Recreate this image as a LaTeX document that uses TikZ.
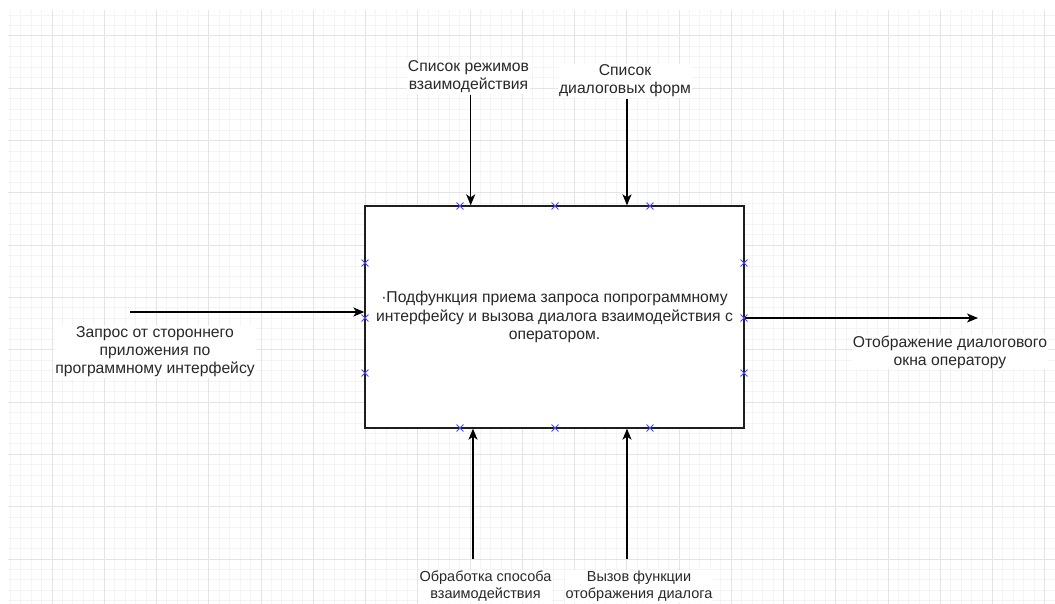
\documentclass[tikz,border=0pt]{standalone}
\usepackage{fontspec}
\setmainfont{Liberation Sans}
\usetikzlibrary{arrows.meta,shapes.misc}
\definecolor{gridminor}{RGB}{244,244,244}
\definecolor{gridmajor}{RGB}{228,228,228}
\definecolor{txt}{RGB}{40,40,40}
\definecolor{edge}{RGB}{30,30,30}
\definecolor{xblue}{RGB}{70,70,255}
\tikzset{
  lbl/.style={fill=white, inner sep=1pt, align=center, text=txt, font=\fontsize{15.7}{18}\selectfont},
  smalllbl/.style={lbl, font=\fontsize{14.5}{17}\selectfont},
  arr/.style={line width=1.3pt, draw=black, -{Stealth[length=11pt,width=9pt,inset=3pt]}},
  xmark/.style={cross out, draw=xblue, minimum size=6pt, inner sep=0pt, line width=0.9pt},
  funcbox/.style={draw=edge, line width=1.3pt, fill=white, minimum width=379pt, minimum height=222pt, align=center, text=txt, font=\fontsize{15.7}{18.5}\selectfont}
}
\begin{document}
\begin{tikzpicture}[x=1pt,y=-1pt]
\useasboundingbox (0,0) rectangle (1055,604);
\fill[white] (0,0) rectangle (1055,604);
% grid
\begin{scope}
\clip (8,10) rectangle (1055,604);
\foreach \k in {-4,...,96} {
  \pgfmathsetmacro{\xx}{52+10.45*\k}
  \draw[gridminor, line width=1pt] (\xx,10) -- (\xx,604);
}
\foreach \k in {-3,...,54} {
  \pgfmathsetmacro{\yy}{36+10.46*\k}
  \draw[gridminor, line width=1pt] (8,\yy) -- (1055,\yy);
}
\foreach \k in {-1,...,20} {
  \pgfmathsetmacro{\xx}{52+52.25*\k}
  \draw[gridmajor, line width=1pt] (\xx,10) -- (\xx,604);
}
\foreach \k in {-1,...,11} {
  \pgfmathsetmacro{\yy}{36+52.3*\k}
  \draw[gridmajor, line width=1pt] (8,\yy) -- (1055,\yy);
}
\end{scope}

% main box
\node[funcbox] (box) at (554.5,317) {·Подфункция приема запроса попрограммному\\интерфейсу и вызова диалога взаимодействия с\\оператором.};

% labels
\node[lbl] (ctl1) at (468.5,77) {Список режимов\\взаимодействия};
\node[lbl] (ctl2) at (625,81) {Список\\диалоговых форм};
\node[lbl] (inp) at (155,352) {Запрос от стороннего\\приложения по\\программному интерфейсу};
\node[lbl] (out) at (950,352) {Отображение диалогового\\окна оператору};
\node[smalllbl] (mec1) at (485.5,586.5) {Обработка способа\\взаимодействия};
\node[smalllbl] (mec2) at (639,586.5) {Вызов функции\\отображения диалога};

% arrow free ends
\coordinate (t1) at (470.7,95);
\coordinate (t2) at (627,99);
\coordinate (b1) at (473,559);
\coordinate (b2) at (627,559);
\coordinate (l1) at (130,312);
\coordinate (r1) at (978,318);

\draw[arr] (t1) -- (t1 |- box.north);
\draw[arr] (t2) -- (t2 |- box.north);
\draw[arr] (b1) -- (b1 |- box.south);
\draw[arr] (b2) -- (b2 |- box.south);
\draw[arr] (l1) -- (l1 -| box.west);
\draw[arr] (box.east |- r1) -- (r1);

% connection markers
\node[xmark] (xt1) at (460,206) {};
\node[xmark] (xt2) at (555,206) {};
\node[xmark] (xt3) at (650,206) {};
\node[xmark] (xb1) at (460,428) {};
\node[xmark] (xb2) at (555,428) {};
\node[xmark] (xb3) at (650,428) {};
\node[xmark] (xl1) at (365,263) {};
\node[xmark] (xl2) at (365,318) {};
\node[xmark] (xl3) at (365,373) {};
\node[xmark] (xr1) at (744,263) {};
\node[xmark] (xr2) at (744,318) {};
\node[xmark] (xr3) at (744,373) {};
\end{tikzpicture}
\end{document}
